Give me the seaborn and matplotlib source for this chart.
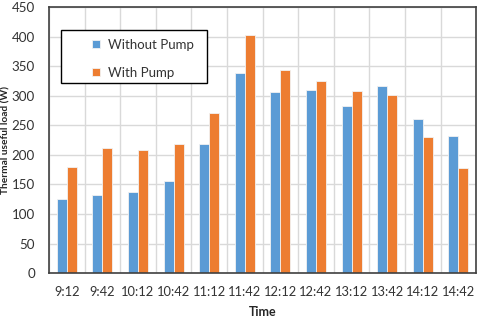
import numpy as np
import matplotlib
matplotlib.use("Agg")
import matplotlib.pyplot as plt
import matplotlib.patches as mpatches
import seaborn as sns
import pandas as pd

times = ['9:12', '9:42', '10:12', '10:42', '11:12', '11:42',
         '12:12', '12:42', '13:12', '13:42', '14:12', '14:42']
without_pump = [125, 132, 137, 156, 218, 338, 307, 309, 282, 317, 261, 231]
with_pump = [180, 212, 209, 218, 271, 403, 344, 325, 308, 302, 230, 178]

df = pd.DataFrame({'Time': times * 2,
                   'value': without_pump + with_pump,
                   'series': ['Without Pump'] * len(times) + ['With Pump'] * len(times)})

sns.set_style('white')
plt.rcParams['font.family'] = ['Lato', 'DejaVu Sans']

fig = plt.figure(figsize=(4.8, 3.19), dpi=100)
ax = fig.add_axes([0.102, 0.144, 0.890, 0.834])
ax.set_axisbelow(True)

sns.barplot(data=df, x='Time', y='value', hue='series',
            palette=['#5B9BD5', '#ED7D31'], saturation=1, width=0.56,
            edgecolor='#F2F2F2', linewidth=0.6, ax=ax)

ax.set_ylim(0, 450)
ax.set_yticks(range(0, 451, 50))
ax.set_xlim(-0.5, len(times) - 0.5)
ax.set_xticks(np.arange(-0.5, len(times), 1.0), minor=True)
ax.grid(False)
ax.grid(which='minor', axis='x', color='#D9D9D9', linewidth=1)
ax.grid(which='major', axis='y', color='#D9D9D9', linewidth=1)
ax.tick_params(axis='both', which='both', length=0, colors='#333333')
ax.tick_params(axis='x', pad=9, labelsize=9.3)
ax.tick_params(axis='y', pad=10, labelsize=9.6)
for s in ax.spines.values():
    s.set_color('#404040')
    s.set_linewidth(1.2)

ax.set_xlabel('Time', fontsize=9, fontweight='bold', labelpad=6)
ax.set_ylabel('Thermal useful load (W)', fontsize=7.3, fontweight='bold')
ax.yaxis.set_label_coords(-0.09, 0.5)

# legend box drawn separately so the padding matches the original
ax.add_patch(mpatches.Rectangle((0.028, 0.714), 0.342, 0.2, transform=ax.transAxes,
                                fill=True, facecolor='white', edgecolor='black',
                                linewidth=1, zorder=5))
leg = ax.legend(loc='upper left', bbox_to_anchor=(0.1, 0.88), fontsize=9.5,
                frameon=False, handlelength=0.6, handleheight=0.6, borderpad=0,
                labelspacing=1.2, borderaxespad=0, handletextpad=0.6)
leg.set_zorder(6)
for t in leg.get_texts():
    t.set_color('#333333')

fig.savefig('out.png', dpi=100)
